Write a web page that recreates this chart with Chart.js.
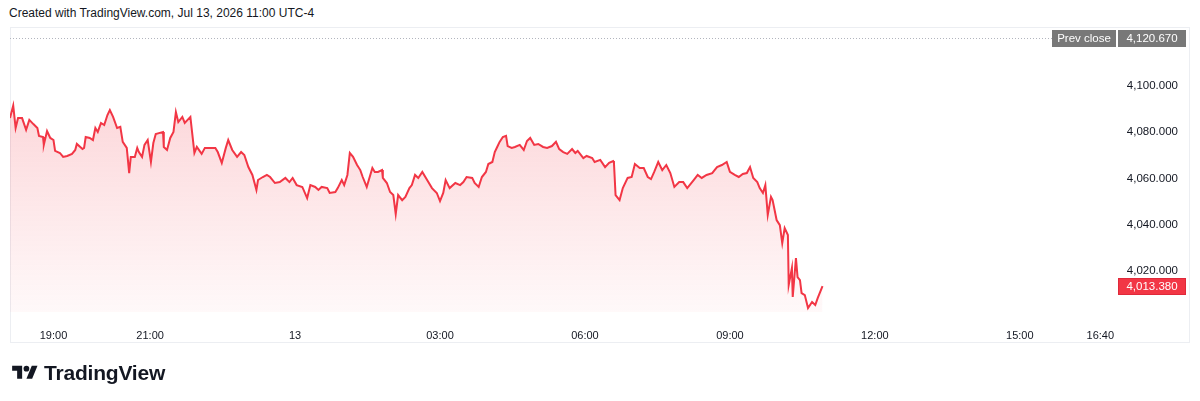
<!DOCTYPE html>
<html>
<head>
<meta charset="utf-8">
<script src="https://cdn.jsdelivr.net/npm/chart.js@4.4.1/dist/chart.umd.min.js"></script>
<style>
  html, body { margin: 0; padding: 0; background: #fff; }
  body { width: 1200px; height: 401px; position: relative; overflow: hidden; font-family: "Liberation Sans", Arial, sans-serif; }
  #header { position: absolute; left: 9px; top: 6px; font-size: 12px; color: #131722; white-space: nowrap; }
  #frame { position: absolute; left: 10px; top: 27px; width: 1178px; height: 314px; border: 1px solid #eceef2; }
  #wrap { position: absolute; left: 0; top: 0; width: 1200px; height: 401px; }
  #logo { position: absolute; left: 12px; top: 361px; display: flex; align-items: center; color: #131722; }
  #logo span { font-size: 21px; font-weight: bold; margin-left: 6px; letter-spacing: -0.2px; }
</style>
</head>
<body>
<div id="header">Created with TradingView.com, Jul 13, 2026 11:00 UTC-4</div>
<div id="frame"></div>
<div id="wrap"><canvas id="grafico" width="1200" height="401"></canvas></div>
<div id="logo">
  <svg width="26" height="20" viewBox="0 0 36 28"><path fill="#131722" d="M14 22H7V11H0V4h14v18zM28 22h-8l7.5-18h8L28 22z"/><circle fill="#131722" cx="20" cy="8" r="4"/></svg>
  <span>TradingView</span>
</div>
<script>
// horario (18:xx - 23:xx = dia 12, resto = dia 13) e preco
const times = [
  "18:06","18:10","18:13","18:16","18:21","18:26","18:30","18:35","18:40","18:42","18:47","18:48","18:52","18:56",
  "19:00","19:02","19:08","19:12","19:17","19:23","19:27","19:29","19:36","19:38","19:40","19:45","19:49","19:52","19:55","19:59",
  "20:03","20:07","20:10","20:14","20:19","20:23","20:26","20:31","20:34","20:36","20:41","20:44","20:46","20:50","20:53","20:57",
  "21:01","21:04","21:07","21:12","21:16","21:17","21:21","21:25","21:29","21:32","21:35","21:40","21:43","21:50","21:55","21:58",
  "22:04","22:08","22:14","22:21","22:24","22:29","22:34","22:37","22:42","22:48","22:53","22:57",
  "23:02","23:07","23:12","23:14","23:20","23:25","23:29","23:35","23:41","23:48","23:53","23:57",
  "00:02","00:09","00:15","00:19","00:25","00:29","00:33","00:40","00:43","00:50","00:53","00:58",
  "01:01","01:05","01:08","01:12","01:17","01:21","01:24","01:29","01:36","01:39","01:43","01:48","01:49","01:54","01:58",
  "02:02","02:05","02:08","02:13","02:17","02:22","02:25","02:29","02:33","02:38","02:44","02:50","02:56",
  "03:00","03:04","03:07","03:12","03:19","03:25","03:29","03:33","03:40","03:43","03:48","03:52","03:57",
  "04:00","04:05","04:08","04:11","04:14","04:18","04:22","04:24","04:29","04:33","04:39","04:44","04:48","04:52","04:57",
  "05:02","05:08","05:13","05:19","05:24","05:28","05:33","05:38","05:44","05:48","05:51","05:58",
  "06:02","06:09","06:12","06:19","06:25","06:30","06:35","06:36","06:38","06:43","06:47","06:53","06:58",
  "07:02","07:08","07:13","07:18","07:22","07:26","07:31","07:36","07:41","07:46","07:51","07:57",
  "08:02","08:07","08:10","08:15","08:20","08:25","08:31","08:38","08:44","08:50","08:56",
  "09:00","09:06","09:11","09:16","09:21","09:25","09:29","09:34","09:37","09:41","09:44","09:47","09:51","09:53","09:58",
  "10:02","10:05","10:08","10:12","10:13","10:17","10:18","10:22","10:24","10:27","10:29","10:33","10:37","10:42","10:46","10:49","10:55"
]
const prices = [
  4086.1,4091.5,4081.8,4086.1,4086.1,4081.0,4085.3,4083.5,4081.8,4078.4,4077.9,4074.5,4080.5,4077.5,
  4076.6,4071.9,4071.0,4069.3,4069.7,4070.6,4072.3,4074.9,4072.7,4073.2,4077.9,4077.5,4076.6,4081.8,4080.1,4084.0,
  4083.1,4087.4,4089.6,4086.6,4081.8,4082.3,4075.8,4073.2,4062.3,4069.3,4069.3,4073.2,4071.4,4069.3,4074.5,4076.6,
  4067.1,4075.3,4079.2,4079.7,4080.1,4073.6,4072.3,4077.5,4080.1,4088.7,4084.4,4086.6,4084.0,4086.6,4071.0,4073.6,
  4070.6,4073.2,4073.2,4073.2,4071.4,4066.7,4073.2,4076.6,4072.3,4069.3,4071.4,4070.1,
  4064.9,4061.5,4055.0,4059.3,4060.6,4061.5,4060.6,4058.0,4058.4,4060.2,4058.4,4060.2,
  4057.1,4056.3,4051.5,4057.1,4056.3,4055.0,4056.3,4055.8,4053.7,4054.1,4055.8,4059.3,
  4057.1,4061.5,4071.0,4069.3,4065.8,4063.6,4060.6,4056.3,4064.5,4062.8,4062.8,4063.6,4060.2,4058.0,4054.1,
  4052.8,4044.6,4052.8,4050.6,4052.0,4055.8,4057.1,4061.5,4060.2,4062.8,4059.3,4055.8,4053.7,
  4050.2,4053.7,4059.3,4055.8,4058.0,4057.1,4058.4,4060.6,4060.2,4058.0,4056.3,4060.6,4062.8,
  4066.2,4067.1,4071.4,4073.6,4075.8,4077.9,4078.4,4074.0,4073.2,4073.6,4074.5,4072.3,4076.2,4077.5,4074.5,
  4074.9,4073.6,4073.2,4074.0,4075.8,4072.7,4071.4,4070.6,4072.7,4071.0,4071.9,4068.8,
  4069.7,4068.8,4067.1,4068.0,4064.9,4066.7,4067.5,4066.7,4052.8,4050.6,4055.8,4060.2,4060.6,
  4066.2,4064.5,4064.5,4060.6,4059.7,4062.8,4067.1,4063.6,4065.8,4062.3,4056.3,4058.4,
  4058.4,4055.8,4057.1,4059.3,4061.5,4060.2,4061.5,4062.3,4064.9,4065.8,4067.1,
  4062.8,4061.5,4060.6,4061.9,4062.3,4064.9,4060.2,4058.4,4055.8,4053.7,4057.1,4044.2,4052.0,4050.6,4042.0,
  4039.8,4032.0,4038.5,4035.5,4013.9,4021.2,4008.7,4025.5,4017.3,4016.0,4010.4,4009.5,4003.9,4006.5,4005.2,4008.2,4013.38
]

const prevClose = 4120.670
const lastPrice = 4013.380
const priceTicks = [4020, 4040, 4060, 4080, 4100]
const timeTicks = ["19:00", "21:00", "00:00", "03:00", "06:00", "09:00", "12:00", "15:00", "16:40"]
const timeTickLabels = ["19:00", "21:00", "13", "03:00", "06:00", "09:00", "12:00", "15:00", "16:40"]

function paraMinutos(t) {
	let h = Number(t.split(':')[0])
	let m = Number(t.split(':')[1])
	let v = h * 60 + m
	return h >= 18 ? v - 1440 : v
}

function formataPreco(v) {
	return v.toLocaleString('en-US', {minimumFractionDigits: 3, maximumFractionDigits: 3})
}

var pontos = times.map((t, i) => ({x: paraMinutos(t), y: prices[i]}))
var posTicks = timeTicks.map(paraMinutos)

const etiquetas = {
	id: 'etiquetas',
	beforeDatasetsDraw(chart) {
		const {ctx, chartArea, scales: {y}} = chart
		let yp = Math.round(y.getPixelForValue(prevClose)) + 0.5
		ctx.save()
		ctx.strokeStyle = '#b2b5be'
		ctx.lineWidth = 1
		ctx.setLineDash([1, 2])
		ctx.beginPath()
		ctx.moveTo(chartArea.left, yp)
		ctx.lineTo(chartArea.right - 58, yp)
		ctx.stroke()
		ctx.restore()
	},
	afterDraw(chart) {
		const {ctx, chartArea, scales: {y}} = chart
		let yp = Math.round(y.getPixelForValue(prevClose))
		let yl = Math.round(y.getPixelForValue(lastPrice))
		ctx.save()
		ctx.font = '11.5px "Liberation Sans", Arial, sans-serif'
		ctx.textAlign = 'center'
		ctx.textBaseline = 'middle'

		ctx.fillStyle = '#787878'
		ctx.fillRect(chartArea.right - 58, yp - 8, 64, 17)
		ctx.fillRect(chartArea.right + 8, yp - 8, 68, 17)
		ctx.fillStyle = '#ffffff'
		ctx.fillText('Prev close', chartArea.right - 26, yp + 1)
		ctx.fillText(formataPreco(prevClose), chartArea.right + 42, yp + 1)

		ctx.fillStyle = '#f23645'
		ctx.fillRect(chartArea.right + 8, yl - 8, 68, 17)
		ctx.strokeStyle = '#e0293a'
		ctx.strokeRect(chartArea.right + 8.5, yl - 7.5, 67, 16)
		ctx.fillStyle = '#ffffff'
		ctx.fillText(formataPreco(lastPrice), chartArea.right + 42, yl + 1)
		ctx.restore()
	}
}

var grafico = document.getElementById('grafico').getContext('2d')
var dados = {
	type: 'line',
	data: {
		datasets: [{
			data: pontos,
			borderColor: '#f23645',
			borderWidth: 2,
			pointRadius: 0,
			tension: 0,
			fill: 'start',
			backgroundColor: (context) => {
				const {ctx, chartArea} = context.chart
				if (!chartArea) return 'rgba(242, 54, 69, 0.1)'
				let g = ctx.createLinearGradient(0, chartArea.top, 0, chartArea.bottom)
				g.addColorStop(0, 'rgba(242, 54, 69, 0.26)')
				g.addColorStop(1, 'rgba(242, 54, 69, 0.03)')
				return g
			}
		}]
	},
	options: {
		responsive: false,
		animation: false,
		layout: { padding: { left: 10, top: 27, right: 22, bottom: 59 } },
		plugins: {
			legend: { display: false },
			tooltip: { enabled: false }
		},
		scales: {
			x: {
				type: 'linear',
				min: -354,
				max: 1012,
				grid: { display: false },
				border: { display: false },
				afterBuildTicks: (scale) => { scale.ticks = posTicks.map(v => ({value: v})) },
				afterFit: (scale) => { scale.height = 30 },
				ticks: {
					autoSkip: false,
					maxRotation: 0,
					padding: 9,
					color: '#131722',
					font: { family: '"Liberation Sans", Arial, sans-serif', size: 11 },
					callback: (v) => timeTickLabels[posTicks.indexOf(v)]
				}
			},
			y: {
				position: 'right',
				min: 4002.2,
				max: 4125.5,
				grid: { display: false },
				border: { display: false },
				afterBuildTicks: (scale) => { scale.ticks = priceTicks.map(v => ({value: v})) },
				afterFit: (scale) => { scale.width = 68 },
				ticks: {
					crossAlign: 'far',
					padding: 7,
					color: '#131722',
					font: { family: '"Liberation Sans", Arial, sans-serif', size: 11.5 },
					callback: (v) => formataPreco(v)
				}
			}
		}
	},
	plugins: [etiquetas]
}
new Chart(grafico, dados)
</script>
</body>
</html>
